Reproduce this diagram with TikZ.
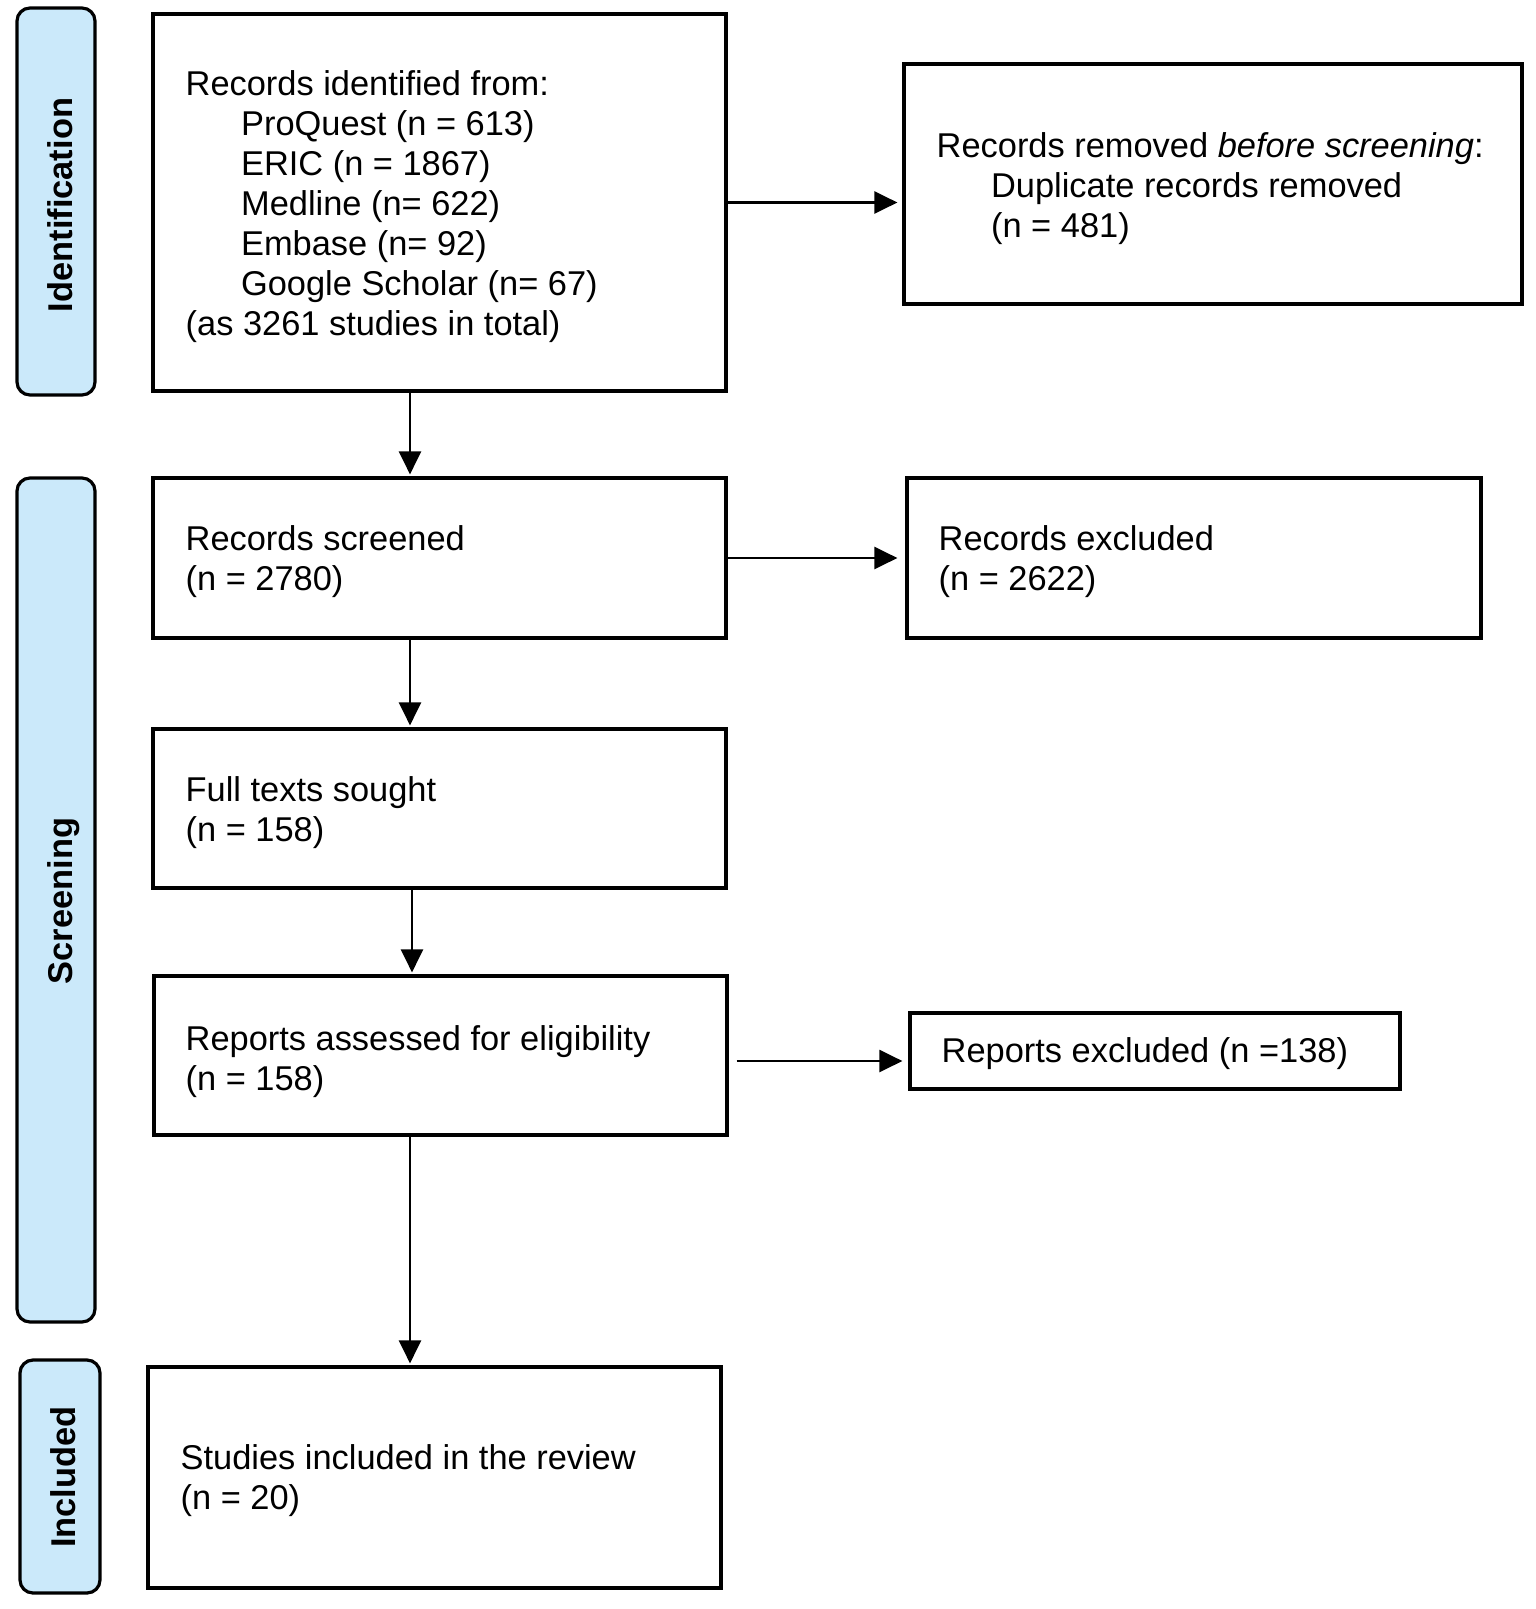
\documentclass[tikz,border=0pt]{standalone}
\usepackage{fontspec}
\setmainfont{Liberation Sans}
\usetikzlibrary{arrows.meta}
\definecolor{phaseblue}{RGB}{203,233,250}
\begin{document}
\begin{tikzpicture}[x=1pt,y=-1pt,
  box/.style={draw=black,line width=3.2pt,fill=white,inner sep=0pt,rectangle},
  phase/.style={draw=black,line width=3.2pt,fill=phaseblue,rounded corners=13pt,inner sep=0pt},
  phasetext/.style={font=\fontsize{34.4}{40}\selectfont\bfseries,rotate=90,anchor=base,inner sep=0pt},
  txt/.style={font=\fontsize{34.4}{40}\selectfont,align=left,anchor=base west,inner sep=0pt},
  arr/.style={line width=2.3pt,-{Triangle[length=23pt,width=22pt]}}
]
\useasboundingbox (0,0) rectangle (1535,1609);

% phase labels
\node[phase,minimum width=78pt,minimum height=387pt] (pid) at (56,201.5) {};
\node[phase,minimum width=78pt,minimum height=844pt] (pscr) at (56,900) {};
\node[phase,minimum width=80pt,minimum height=233pt] (pinc) at (60,1476.5) {};
\node[phasetext] (tid) at (72,205) {Identification};
\node[phasetext] (tscr) at (72,901) {Screening};
\node[phasetext] (tinc) at (75,1477) {Included};

% boxes
\node[box,minimum width=573pt,minimum height=377pt] (b1) at (439.5,202.5) {};
\node[box,minimum width=618pt,minimum height=240pt] (rem) at (1213,184) {};
\node[box,minimum width=573pt,minimum height=160pt] (scr) at (439.5,558) {};
\node[box,minimum width=574pt,minimum height=160pt] (exc) at (1194,558) {};
\node[box,minimum width=573pt,minimum height=159pt] (full) at (439.5,808.5) {};
\node[box,minimum width=573pt,minimum height=159pt] (rep) at (440.5,1055.5) {};
\node[box,minimum width=490pt,minimum height=76pt] (rx) at (1155,1051) {};
\node[box,minimum width=573pt,minimum height=221pt] (inc) at (434.5,1477.5) {};

% texts (anchor = baseline of the last line)
\node[txt] (t1) at (185.5,335.5) {Records identified from:\\
\hspace*{55.4pt}ProQuest (n = 613)\\
\hspace*{55.4pt}ERIC (n = 1867)\\
\hspace*{55.4pt}Medline (n= 622)\\
\hspace*{55.4pt}Embase (n= 92)\\
\hspace*{55.4pt}Google Scholar (n= 67)\\
(as 3261 studies in total)};
\node[txt] (trem) at (936.5,237) {Records removed \textit{before screening}:\\
\hspace*{54.4pt}Duplicate records removed\\
\hspace*{54.4pt}(n = 481)};
\node[txt] (tscr2) at (185.5,590.5) {Records screened\\(n = 2780)};
\node[txt] (texc) at (938.5,590.5) {Records excluded\\(n = 2622)};
\node[txt] (tfull) at (185.5,841) {Full texts sought\\(n = 158)};
\node[txt] (trep) at (185.5,1090) {Reports assessed for eligibility\\(n = 158)};
\node[txt] (trx) at (941.5,1062.5) {Reports excluded (n =138)};
\node[txt] (tinc2) at (180.5,1509.5) {Studies included in the review\\(n = 20)};

% arrow guide coordinates
\coordinate (ax) at (410,0);
\coordinate (ax2) at (412,0);
\coordinate (ry) at (0,1061);

% connectors
\draw[arr,shorten >=5pt] (b1.east) -- (b1.east -| rem.west);
\draw[arr,shorten >=2pt] (b1.south -| ax) -- (scr.north -| ax);
\draw[arr,shorten >=8pt] (scr.east) -- (scr.east -| exc.west);
\draw[arr,shorten >=2pt] (scr.south -| ax) -- (full.north -| ax);
\draw[arr,shorten >=2pt] (full.south -| ax2) -- (rep.north -| ax2);
\draw[arr,shorten >=6pt,shorten <=8pt] (rep.east |- ry) -- (rx.west |- ry);
\draw[arr,shorten >=2pt] (rep.south -| ax) -- (inc.north -| ax);
\end{tikzpicture}
\end{document}
